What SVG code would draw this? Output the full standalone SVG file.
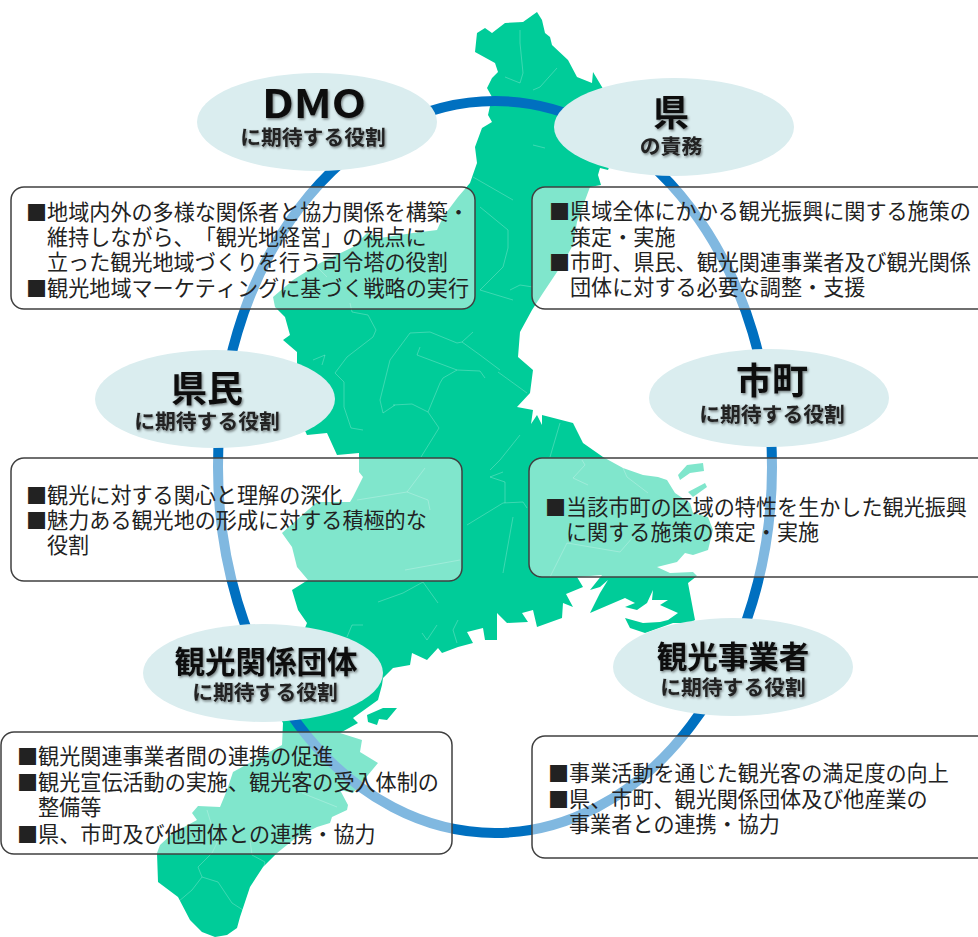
<svg xmlns="http://www.w3.org/2000/svg" width="978" height="937" viewBox="0 0 978 937">
<style>
text{font-family:"Noto Sans CJK JP","Noto Sans CJK SC","DejaVu Sans",sans-serif;fill:#1a1a1a;text-spacing-trim:space-all;font-kerning:none}
.b{font-size:21.1px;font-weight:400;fill:#222}
.t{font-size:30.5px;font-weight:700;text-anchor:middle;filter:url(#sh);fill:#111}
.s{font-size:20.8px;font-weight:700;text-anchor:middle;filter:url(#sh);fill:#222}
.e{fill:#DAEDEF}
.box{fill:#fff;fill-opacity:.5;stroke:#404040;stroke-width:1.5}
.land{fill:#00CC99}
.muni{fill:none;stroke:#fff;stroke-opacity:.3;stroke-width:.8;stroke-linejoin:round}
</style>
<defs>
<filter id="sh" x="-20%" y="-30%" width="140%" height="170%"><feDropShadow dx="1.2" dy="1.5" stdDeviation="1.3" flood-color="#000" flood-opacity=".45"/></filter>
</defs>
<g id="map">
<path class="land" d="M537,12 L542,20 L545,33 L550,37 L552,45 L568,60 L577,77 L592,83 L593,72 L602,87 L620,120 L612,160 L608,170 L600,168 L598,175 L601,185 L590,187 L577,222 L573,245 L563,263 L543,293 L532,310 L520,332 L518,357 L533,370 L530,393 L517,407 L533,410 L531,424 L537,415 L542,425 L542,415 L573,423 L583,443 L603,457 L623,468 L643,475 L658,477 L667,480 L675,493 L690,503 L693,513 L708,517 L713,530 L708,550 L693,555 L685,553 L677,562 L657,567 L670,573 L693,572 L697,576 L688,583 L695,620 L690,623 L673,623 L645,633 L630,628 L625,618 L643,623 L660,622 L668,620 L678,613 L660,605 L668,600 L652,600 L653,590 L647,603 L637,610 L625,607 L635,603 L625,598 L590,613 L600,593 L608,580 L600,587 L590,590 L602,575 L577,577 L583,587 L566,594 L573,607 L563,603 L562,618 L537,627 L533,610 L522,613 L528,622 L507,623 L497,613 L497,640 L485,640 L483,628 L467,632 L473,643 L458,647 L442,653 L438,648 L427,660 L412,653 L410,665 L393,668 L383,678 L382,685 L378,700 L353,718 L358,723 L340,733 L362,740 L360,752 L378,763 L353,793 L340,790 L348,805 L347,810 L332,817 L330,823 L317,827 L297,837 L277,853 L263,867 L250,887 L240,917 L237,928 L227,935 L215,937 L202,932 L190,920 L178,897 L158,882 L157,853 L160,845 L173,833 L197,820 L192,813 L198,806 L220,807 L227,790 L233,772 L282,745 L283,723 L270,700 L300,640 L307,623 L298,610 L292,590 L308,580 L297,567 L292,547 L282,533 L317,502 L350,502 L353,497 L363,477 L359,472 L359,453 L337,455 L327,433 L307,435 L300,420 L297,362 L297,352 L283,340 L290,335 L285,317 L275,307 L273,297 L293,280 L320,263 L353,247 L367,233 L380,238 L413,233 L437,230 L443,217 L458,197 L470,183 L477,163 L475,147 L482,128 L492,122 L488,115 L492,97 L487,88 L492,78 L498,72 L495,63 L475,52 L477,33 L485,28 L492,33 L505,23 L523,22 Z"/>
<path class="land" d="M367,715 L383,708 L397,708 L387,720 L379,719 L377,725 L368,722 Z"/>
<path class="land" d="M678,475 L687,465 L703,463 L704,471 L690,473 L680,480 Z"/>
<path class="land" d="M688,492 L705,483 L707,487 L693,497 Z"/>
<path class="muni" d="M350,303 L352,312 L368,315 L376,330 L373,337 L347,357 L335,373 L344,382 L344,407 L351,428 L363,430"/>
<path class="muni" d="M393,405 L412,404 L428,412 L439,428 L421,457 M428,412 L440,383 L443,378 L457,370 L480,371 L485,378 M407,492 L425,468 M407,492 L428,500 L430,510 M357,500 L407,492 M467,525 L503,503 L523,502 L527,508 M505,503 L505,482 L490,477 L503,472 M513,517 L503,573 M378,602 L403,593 L423,582 L438,603 M410,333 L430,332 L457,343 L462,342 L473,332 M410,333 L390,360 L380,400 L383,413 L395,405 M420,347 L417,355 L457,370 M498,372 L527,393 M550,457 L560,423 M567,543 L620,552 L633,537 M567,543 L550,577 M623,468 L627,477 L648,493 M582,460 L585,465 L573,478 L588,485"/>
<path class="muni" d="M347,637 L352,625 L363,625 M422,633 L427,640 L437,625 M457,643 L453,630 L458,620 M202,877 L218,882 L232,903 L243,910 M202,877 L192,890 L178,902 M202,877 L198,867 L212,853 L217,843 L207,810 M250,840 L252,855 L265,862 L263,870 M302,793 L337,807 M520,30 L520,43 L523,73 L520,83 L505,77 M557,68 L540,87 L533,90 M473,177 L513,200 M533,145 L545,148 M313,263 L327,277 M480,207 L508,230 L508,248 L503,267 L480,290 L513,300 M510,290 L520,285 L533,287 M313,360 L325,355 L322,365 M405,570 L460,560 M520,435 L500,460 L490,470 M462,342 L480,355 L500,370"/>
</g>
<g id="connectors">
<ellipse id="ring" cx="495" cy="467" rx="277" ry="366" fill="none" stroke="#0070C0" stroke-width="10"/>
</g>
<g id="box-dmo"><rect class="box" x="11" y="187" width="464" height="122" rx="13"/>
<text class="b" x="26" y="220">■地域内外の多様な関係者と協力関係を構築・</text>
<text class="b" x="47" y="245">維持しながら、「観光地経営」の視点に</text>
<text class="b" x="47" y="270">立った観光地域づくりを行う司令塔の役割</text>
<text class="b" x="26" y="296">■観光地域マーケティングに基づく戦略の実行</text></g>
<g id="box-ken"><rect class="box" x="532" y="187" width="460" height="122" rx="13"/>
<text class="b" x="549" y="219">■県域全体にかかる観光振興に関する施策の</text>
<text class="b" x="570" y="245">策定・実施</text>
<text class="b" x="549" y="270">■市町、県民、観光関連事業者及び観光関係</text>
<text class="b" x="570" y="295">団体に対する必要な調整・支援</text></g>
<g id="box-kenmin"><rect class="box" x="11" y="458" width="451" height="123" rx="13"/>
<text class="b" x="26" y="503">■観光に対する関心と理解の深化</text>
<text class="b" x="26" y="528">■魅力ある観光地の形成に対する積極的な</text>
<text class="b" x="47" y="553">役割</text></g>
<g id="box-shicho"><rect class="box" x="529" y="458" width="463" height="119" rx="13"/>
<text class="b" x="545" y="515">■当該市町の区域の特性を生かした観光振興</text>
<text class="b" x="566" y="540">に関する施策の策定・実施</text></g>
<g id="box-dantai"><rect class="box" x="1" y="732" width="451" height="122" rx="13"/>
<text class="b" x="17" y="764">■観光関連事業者間の連携の促進</text>
<text class="b" x="17" y="790">■観光宣伝活動の実施、観光客の受入体制の</text>
<text class="b" x="38" y="815">整備等</text>
<text class="b" x="17" y="842">■県、市町及び他団体との連携・協力</text></g>
<g id="box-jigyosha"><rect class="box" x="532" y="736" width="460" height="122" rx="13"/>
<text class="b" x="548" y="781">■事業活動を通じた観光客の満足度の向上</text>
<text class="b" x="548" y="807">■県、市町、観光関係団体及び他産業の</text>
<text class="b" x="569" y="832">事業者との連携・協力</text></g>
<g id="node-dmo"><ellipse class="e" cx="317" cy="122" rx="120" ry="49"/>
<text class="t" x="314" y="118" style="font-size:39px" textLength="104" lengthAdjust="spacingAndGlyphs">DMO</text>
<text class="s" x="313" y="145">に期待する役割</text></g>
<g id="node-ken"><ellipse class="e" cx="674" cy="127" rx="120" ry="49"/>
<text class="t" x="671" y="126" style="font-size:36px">県</text>
<text class="s" x="671" y="154">の責務</text></g>
<g id="node-shicho"><ellipse class="e" cx="769" cy="398" rx="120" ry="49"/>
<text class="t" x="772" y="394" style="font-size:36px">市町</text>
<text class="s" x="772" y="422">に期待する役割</text></g>
<g id="node-kenmin"><ellipse class="e" cx="215" cy="399" rx="120" ry="49"/>
<text class="t" x="207" y="402" style="font-size:36px">県民</text>
<text class="s" x="207" y="429">に期待する役割</text></g>
<g id="node-dantai"><ellipse class="e" cx="263" cy="673" rx="120" ry="49"/>
<text class="t" x="266" y="673">観光関係団体</text>
<text class="s" x="265" y="700">に期待する役割</text></g>
<g id="node-jigyosha"><ellipse class="e" cx="733" cy="667" rx="120" ry="49"/>
<text class="t" x="733" y="668">観光事業者</text>
<text class="s" x="733" y="695">に期待する役割</text></g>
</svg>
